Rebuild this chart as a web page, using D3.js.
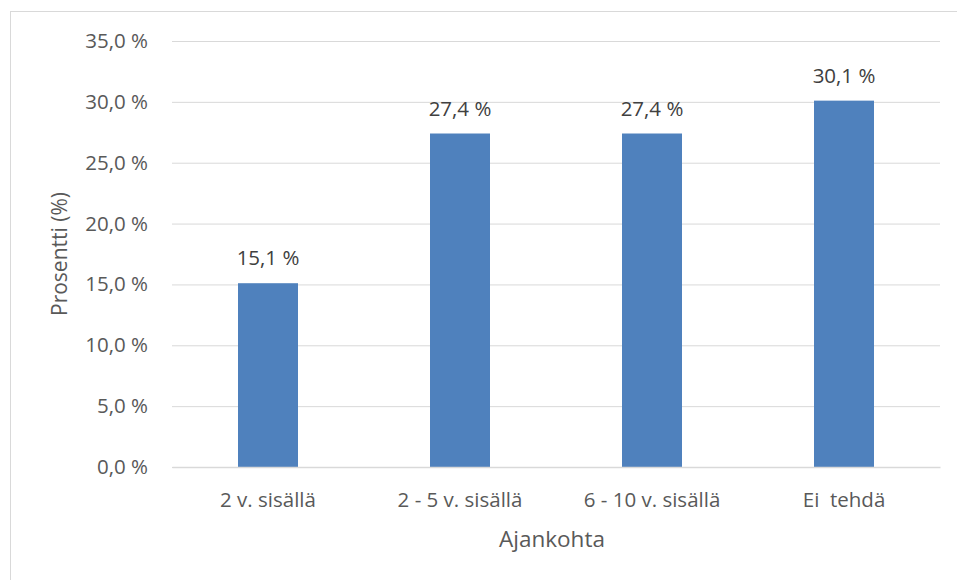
<!DOCTYPE html>
<html>
<head>
<meta charset="utf-8">
<script src="https://cdn.jsdelivr.net/npm/d3@7"></script>
<style>
  body { margin: 0; background: #fff; }
  text { font-family: "Open Sans", "Noto Sans", sans-serif; }
</style>
</head>
<body>
<script>
var categories = ["2 v. sisällä", "2 - 5 v. sisällä", "6 - 10 v. sisällä", "Ei  tehdä"];
var values = [15.1, 27.4, 27.4, 30.1];
var yTicks = [0, 5, 10, 15, 20, 25, 30, 35];
var yTitle = "Prosentti (%)";
var xTitle = "Ajankohta";

var totalWidth = 957;
var totalHeight = 580;
var margin = {top: 41, left: 172, bottom: 113, right: 17};
var width = totalWidth - margin.left - margin.right;
var height = totalHeight - margin.top - margin.bottom;

function fmt(v) {
  return v.toFixed(1).replace(".", ",") + " %";
}

var svg = d3.select("body").append("svg")
  .attr("width", totalWidth)
  .attr("height", totalHeight);

// chart border
svg.append("rect")
  .attr("x", 10.5).attr("y", 11.5)
  .attr("width", totalWidth).attr("height", totalHeight)
  .attr("fill", "none")
  .attr("stroke", "#d9d9d9");

var g = svg.append("g")
  .attr("transform", "translate(" + margin.left + "," + margin.top + ")");

var x = d3.scaleBand()
  .domain(categories)
  .range([0, width])
  .paddingInner(0.6875)
  .paddingOuter(0.34375);

var y = d3.scaleLinear()
  .domain([0, 35])
  .range([height, 0]);

// gridlines + y labels
var yAxis = g.append("g")
  .call(d3.axisLeft(y).tickValues(yTicks).tickSize(-width).tickFormat(fmt).tickPadding(24));
yAxis.select(".domain").remove();
yAxis.selectAll(".tick line").attr("stroke", "#d9d9d9").attr("stroke-width", 1);
yAxis.selectAll(".tick text")
  .attr("fill", "#595959")
  .attr("font-size", "20.5px")
  .attr("font-family", "Open Sans, sans-serif");

// bars
g.selectAll(".bar")
  .data(values)
  .enter().append("rect")
  .attr("class", "bar")
  .attr("x", function(d, i) { return x(categories[i]); })
  .attr("width", x.bandwidth())
  .attr("y", function(d) { return y(d); })
  .attr("height", function(d) { return height - y(d); })
  .attr("fill", "#4f81bd");

// data labels
g.selectAll(".lbl")
  .data(values)
  .enter().append("text")
  .attr("class", "lbl")
  .attr("x", function(d, i) { return x(categories[i]) + x.bandwidth() / 2; })
  .attr("y", function(d) { return y(d) - 18; })
  .attr("text-anchor", "middle")
  .attr("fill", "#404040")
  .attr("font-size", "20.5px")
  .text(fmt);

// x axis
var xAxis = g.append("g")
  .attr("transform", "translate(0," + height + ")")
  .call(d3.axisBottom(x).tickSize(0).tickPadding(25));
xAxis.select(".domain").attr("stroke", "#d9d9d9").attr("stroke-width", 1.5);
xAxis.selectAll(".tick text")
  .attr("fill", "#595959")
  .attr("font-size", "20.5px")
  .attr("font-family", "Open Sans, sans-serif")
  .attr("dy", "0.71em")
  .style("white-space", "pre");

// axis titles
svg.append("text")
  .attr("x", margin.left + width / 2 - 4)
  .attr("y", 547)
  .attr("text-anchor", "middle")
  .attr("fill", "#595959")
  .attr("font-size", "22.5px")
  .text(xTitle);

svg.append("text")
  .attr("transform", "translate(67," + (margin.top + height / 2) + ") rotate(-90)")
  .attr("text-anchor", "middle")
  .attr("fill", "#595959")
  .attr("font-size", "21px")
  .text(yTitle);
</script>
</body>
</html>
